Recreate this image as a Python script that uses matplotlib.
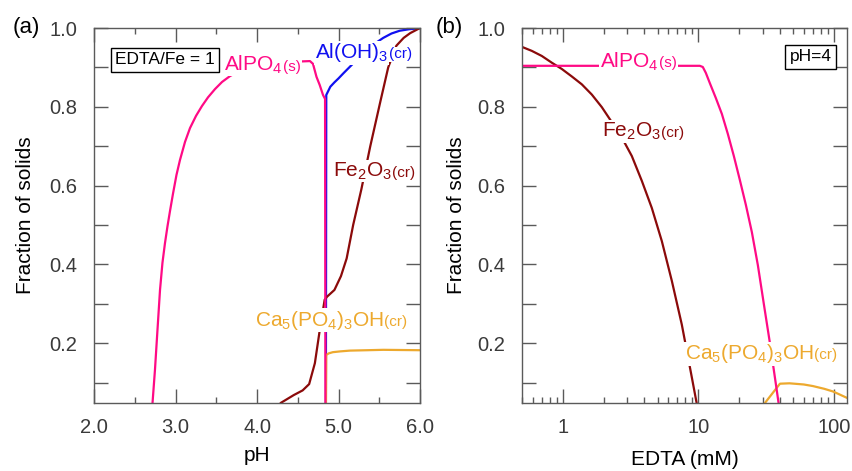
import matplotlib
matplotlib.use("Agg")
import matplotlib.pyplot as plt
from matplotlib.ticker import FixedLocator, FuncFormatter, LogLocator, NullFormatter
from matplotlib.transforms import offset_copy

plt.rcParams['font.family'] = ['Liberation Sans', 'DejaVu Sans']
plt.rcParams['mathtext.default'] = 'regular'

# ---- panel (a): fraction of solids vs pH (EDTA/Fe = 1)
alpo4_ph = [2.70, 2.718, 2.748, 2.779, 2.810, 2.840, 2.871, 2.902, 2.933, 2.969, 3.012, 3.055, 3.117,
            3.178, 3.252, 3.325, 3.399, 3.485, 3.571, 3.669, 3.791, 3.975, 4.160, 4.528, 4.650,
            4.687, 4.73, 4.77, 4.81, 4.835, 4.84]
alpo4_a = [0.0, 0.048, 0.132, 0.234, 0.335, 0.404, 0.454, 0.497, 0.536, 0.579, 0.627, 0.665, 0.711,
           0.746, 0.777, 0.802, 0.824, 0.845, 0.863, 0.878, 0.892, 0.905, 0.912, 0.915, 0.916,
           0.909, 0.876, 0.855, 0.83, 0.82, 0.0]

aloh3_ph = [4.845, 4.85, 4.90, 4.95, 5.00, 5.06, 5.18, 5.30, 5.42, 5.55, 5.65, 5.75, 5.87, 5.98, 6.0]
aloh3_a = [0.0, 0.83, 0.851, 0.862, 0.872, 0.885, 0.91, 0.935, 0.957, 0.975, 0.986, 0.993, 0.997, 0.999, 1.0]

fe2o3_ph = [4.22, 4.29, 4.45, 4.56, 4.64, 4.71, 4.77, 4.83, 4.86, 4.95, 5.03, 5.10, 5.18, 5.28, 5.39,
            5.51, 5.61, 5.71, 5.80, 5.88, 6.0]
fe2o3_a = [0.02, 0.048, 0.068, 0.080, 0.096, 0.149, 0.233, 0.31, 0.318, 0.335, 0.37, 0.415, 0.50, 0.59, 0.70,
           0.81, 0.90, 0.955, 0.975, 0.987, 1.0]

hap_ph = [4.845, 4.85, 4.88, 4.93, 5.02, 5.14, 5.35, 5.55, 6.0]
hap_a = [0.0, 0.17, 0.174, 0.177, 0.179, 0.181, 0.182, 0.183, 0.182]

# ---- panel (b): fraction of solids vs EDTA (pH = 4)
alpo4_edta = [0.5, 10.26, 10.79, 11.36, 12.16, 13.47, 14.91, 16.51, 18.28, 20.25, 22.42, 24.82,
              27.49, 30.44, 33.71, 37.33, 39.28, 40.5]
alpo4_b = [0.904, 0.904, 0.901, 0.886, 0.860, 0.822, 0.782, 0.731, 0.675, 0.614, 0.551, 0.482,
           0.398, 0.299, 0.201, 0.096, 0.043, 0.005]

fe2o3_edta = [0.5, 0.59, 0.70, 0.829, 0.983, 1.165, 1.381, 1.637, 1.941, 2.299, 2.725, 3.23,
              3.828, 4.538, 5.378, 6.375, 7.553, 8.954, 10.09]
fe2o3_b = [0.952, 0.942, 0.929, 0.912, 0.896, 0.877, 0.857, 0.831, 0.799, 0.761, 0.722, 0.675,
           0.612, 0.543, 0.459, 0.358, 0.247, 0.113, 0.018]

hap_edta = [29.5, 31.0, 40.0, 47.0, 60.0, 70.0, 85.0, 99.0, 125.0]
hap_b = [0.02, 0.048, 0.097, 0.098, 0.095, 0.091, 0.084, 0.077, 0.061]

yticks = [0.1, 0.2, 0.3, 0.4, 0.5, 0.6, 0.7, 0.8, 0.9, 1.0]

c_alpo4 = '#ff0a85'
c_aloh3 = '#1010f0'
c_fe2o3 = '#8b0a0a'
c_hap = '#eda92e'
gray = '#5a5a5a'

fig = plt.figure(figsize=(8.52, 4.71), dpi=100)
ax1 = fig.add_axes([94/852, 68/471, 326/852, 375/471])
ax2 = fig.add_axes([522/852, 68/471, 325/852, 375/471])


def style_axis(ax, xlab):
    for s in ax.spines.values():
        s.set_color(gray)
        s.set_linewidth(1.0)
    ax.yaxis.set_major_locator(FixedLocator(yticks))
    ax.yaxis.set_major_formatter(FuncFormatter(lambda v, p: '%.1f' % v if round(v * 10) % 2 == 0 else ''))
    ax.set_ylim(0.048, 1.0)
    ax.tick_params(axis='both', which='both', direction='in', color=gray, width=1.0,
                   labelcolor='#3a3a3a', labelsize=14.5, top=True, right=True)
    ax.tick_params(axis='y', which='major', length=10, pad=12)
    ax.tick_params(axis='x', which='major', length=10, pad=11)
    ax.tick_params(axis='x', which='minor', length=4.5)
    ax.set_ylabel('Fraction of solids', fontsize=15)
    ax.yaxis.set_label_coords(xlab, 0.5)


def label(ax, x, y, main, small, color):
    t = ax.text(x, y, main, color=color, fontsize=15, ha='left', va='baseline', zorder=5,
                bbox=dict(fc='white', ec='none', pad=0.5))
    fig.canvas.draw()
    w = t.get_window_extent().width
    tr = offset_copy(ax.transData, fig=fig, x=w + 0.5, y=0, units='dots')
    ax.text(x, y, small, color=color, fontsize=11, ha='left', va='baseline', zorder=5,
            transform=tr, bbox=dict(fc='white', ec='none', pad=0.5))


# panel (a)
ax1.plot(aloh3_ph, aloh3_a, color=c_aloh3, lw=1.6)
ax1.plot(hap_ph, hap_a, color=c_hap, lw=1.6)
ax1.plot(fe2o3_ph, fe2o3_a, color=c_fe2o3, lw=1.6)
ax1.plot(alpo4_ph, alpo4_a, color=c_alpo4, lw=1.6)
ax1.set_xlim(2.0, 6.0)
ax1.xaxis.set_major_locator(FixedLocator([2, 3, 4, 5, 6]))
ax1.xaxis.set_minor_locator(FixedLocator([2.5, 3.5, 4.5, 5.5]))
ax1.xaxis.set_major_formatter(FuncFormatter(lambda v, p: '%.1f' % v))
style_axis(ax1, -0.181)
ax1.set_xlabel('pH', fontsize=15)
ax1.xaxis.set_label_coords(0.5, -0.115)
ax1.text(2.871, 0.919, 'EDTA/Fe = 1', fontsize=12.5, ha='center', va='center', zorder=6,
         bbox=dict(boxstyle='square,pad=0.25', fc='white', ec='black', lw=1.0))
label(ax1, 3.595, 0.892, 'AlPO$_4$', '(s)', c_alpo4)
label(ax1, 4.71, 0.923, 'Al(OH)$_3$', '(cr)', c_aloh3)
label(ax1, 4.93, 0.623, 'Fe$_2$O$_3$', '(cr)', c_fe2o3)
label(ax1, 3.975, 0.244, 'Ca$_5$(PO$_4$)$_3$OH', '(cr)', c_hap)

# panel (b)
ax2.plot(fe2o3_edta, fe2o3_b, color=c_fe2o3, lw=1.6)
ax2.plot(hap_edta, hap_b, color=c_hap, lw=1.6)
ax2.plot(alpo4_edta, alpo4_b, color=c_alpo4, lw=1.6)
ax2.set_xscale('log')
ax2.set_xlim(0.5, 125)
ax2.xaxis.set_major_locator(FixedLocator([1, 10, 100]))
ax2.xaxis.set_major_formatter(FuncFormatter(lambda v, p: '%g' % v))
ax2.xaxis.set_minor_locator(LogLocator(base=10, subs=range(2, 10)))
ax2.xaxis.set_minor_formatter(NullFormatter())
style_axis(ax2, -0.172)
ax2.set_xlabel('EDTA (mM)', fontsize=15)
ax2.xaxis.set_label_coords(0.5, -0.125)
ax2.text(67.6, 0.927, 'pH=4', fontsize=12.5, ha='center', va='center', zorder=6,
         bbox=dict(boxstyle='square,pad=0.25', fc='white', ec='black', lw=1.0))
label(ax2, 1.875, 0.90, 'AlPO$_4$', '(s)', c_alpo4)
label(ax2, 1.93, 0.724, 'Fe$_2$O$_3$', '(cr)', c_fe2o3)
label(ax2, 7.94, 0.159, 'Ca$_5$(PO$_4$)$_3$OH', '(cr)', c_hap)

fig.text(26/852, 1 - 27/471, '(a)', fontsize=16, ha='center', va='center')
fig.text(449/852, 1 - 27/471, '(b)', fontsize=16, ha='center', va='center')

fig.savefig('out.png', dpi=100)
